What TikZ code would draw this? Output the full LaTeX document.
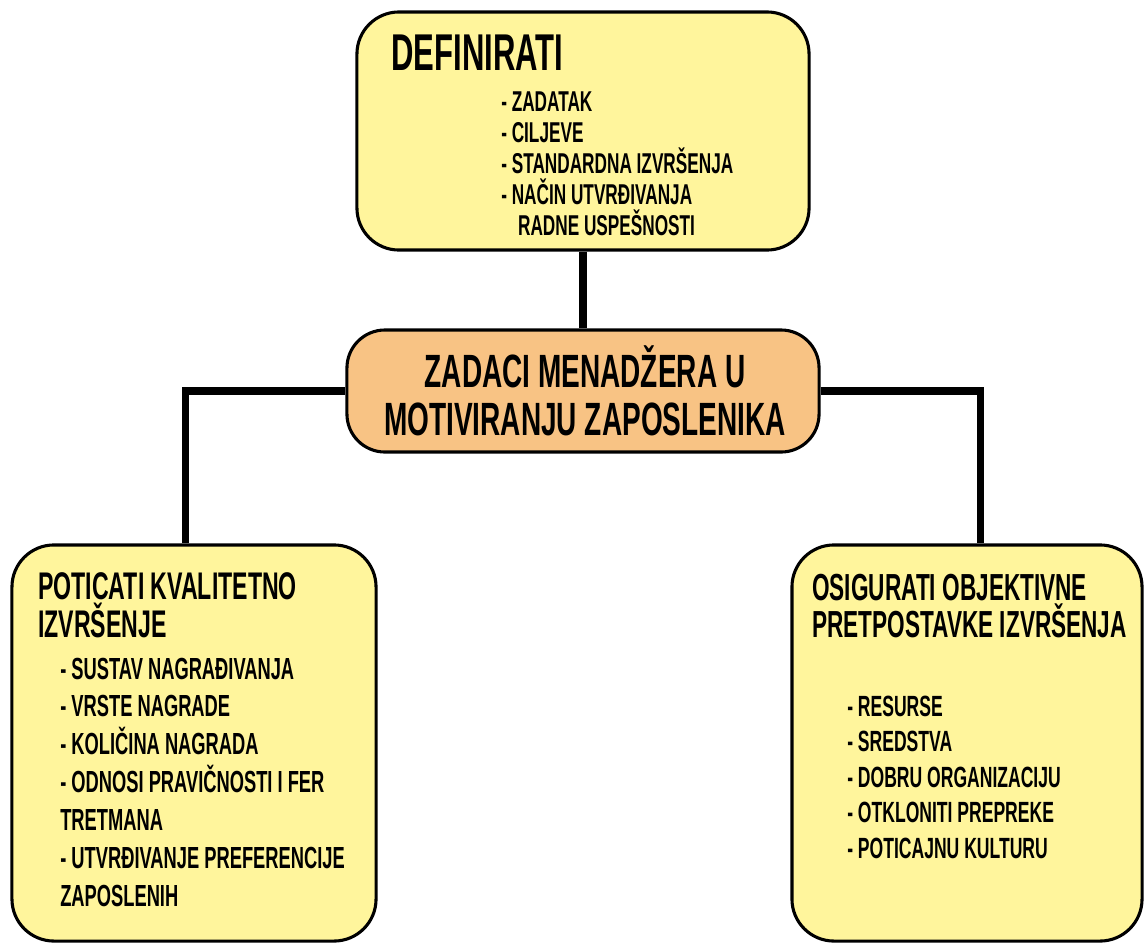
\documentclass[tikz,border=0pt]{standalone}
\usepackage{fontspec}
\setmainfont[FakeStretch=0.6]{Liberation Sans}
\usetikzlibrary{backgrounds}
\definecolor{boxyellow}{HTML}{FFF59C}
\definecolor{boxorange}{HTML}{F8C384}

\begin{document}
\begin{tikzpicture}[x=0.025cm, y=-0.025cm,
  box/.style = {draw, line width=2.2pt, rounded corners=1.05cm, fill=boxyellow, inner sep=0pt},
  txt/.style = {anchor=base west, inner sep=0pt, align=left, font=\bfseries},
  link/.style = {line width=5pt}]
\useasboundingbox (0,0) rectangle (1145,943);
% boxes
\node[box, minimum width=11.3cm, minimum height=5.95cm] (def) at (583,131) {};
\node[box, fill=boxorange, rounded corners=0.95cm, minimum width=11.8cm, minimum height=3.05cm] (zad) at (583,391) {};
\node[box, minimum width=9.1cm, minimum height=9.9cm] (pot) at (194,743) {};
\node[box, minimum width=8.75cm, minimum height=9.9cm] (osi) at (967,743) {};
% texts (base = last line)
\node[txt, font=\bfseries\fontsize{36.8}{38}\selectfont] (deft) at (391,70) {DEFINIRATI};
\node[txt, font=\bfseries\fontsize{20.4}{22}\selectfont] (defl) at (501,235)
  {- ZADATAK\\- CILJEVE\\- STANDARDNA IZVRŠENJA\\- NAČIN UTVRĐIVANJA\\\hspace*{0.42cm}RADNE USPEŠNOSTI};
\node[anchor=center, inner sep=0pt, align=center, font=\bfseries\fontsize{33.2}{34}\selectfont] (zadt) at (585,391)
  {ZADACI MENADŽERA U\\MOTIVIRANJU ZAPOSLENIKA};
\node[txt, font=\bfseries\fontsize{27.4}{27}\selectfont] (pott) at (38,637) {POTICATI KVALITETNO\\IZVRŠENJE};
\node[txt, font=\bfseries\fontsize{21.7}{26.9}\selectfont] (potl) at (60,906)
  {- SUSTAV NAGRAĐIVANJA\\- VRSTE NAGRADE\\- KOLIČINA NAGRADA\\- ODNOSI PRAVIČNOSTI I FER\\TRETMANA\\- UTVRĐIVANJE PREFERENCIJE\\ZAPOSLENIH};
\node[txt, font=\bfseries\fontsize{26.8}{26.3}\selectfont] (osit) at (812,637) {OSIGURATI OBJEKTIVNE\\PRETPOSTAVKE IZVRŠENJA};
\node[txt, font=\bfseries\fontsize{20.8}{25.2}\selectfont] (osil) at (847,858)
  {- RESURSE\\- SREDSTVA\\- DOBRU ORGANIZACIJU\\- OTKLONITI PREPREKE\\- POTICAJNU KULTURU};
% connectors
\begin{scope}[on background layer]
\draw[link] (def) -- (zad);
\draw[link] (zad.west) -| ([xshift=-0.22cm]pot.north);
\draw[link] (zad.east) -| ([xshift=0.33cm]osi.north);
\end{scope}
\end{tikzpicture}
\end{document}
